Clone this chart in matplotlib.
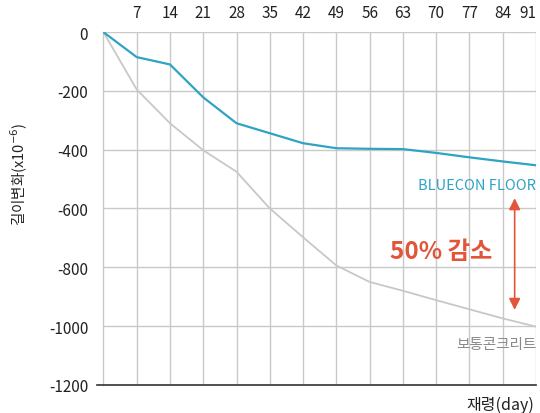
import matplotlib.pyplot as plt

plt.rcParams['font.family'] = ['Noto Sans CJK KR', 'DejaVu Sans']
plt.rcParams['axes.unicode_minus'] = False

# 재령(일)
days = [0, 7, 14, 21, 28, 35, 42, 49, 56, 63, 70, 77, 84, 91]

# 길이변화 (x10^-6)
bluecon = [0, -85, -110, -222, -310, -344, -378, -395, -397, -398, -411, -426, -440, -453]
normal = [0, -195, -310, -402, -475, -600, -698, -794, -850, -880, -912, -943, -974, -1002]

x_ticks = [7, 14, 21, 28, 35, 42, 49, 56, 63, 70, 77, 84, 91]
y_ticks = [0, -200, -400, -600, -800, -1000, -1200]

# 감소 화살표 범위
arrow_x = 86.5
arrow_top = -565
arrow_bottom = -945

fig = plt.figure(figsize=(5.4, 4.14), dpi=100)
ax = fig.add_axes([0.1915, 0.068, 0.8012, 0.852])

grid_c = '#c9c9c9'
ax.plot(days, normal, color='#c8c8c8', lw=1.3, zorder=3)
ax.plot(days, bluecon, color='#2fa3c4', lw=1.6, zorder=4)

ax.set_xlim(0, 91)
ax.set_ylim(-1200, 0)
ax.set_xticks(x_ticks)
ax.set_yticks(y_ticks)
ax.xaxis.tick_top()
ax.tick_params(axis='x', length=0, pad=8, labelsize=11, colors='#222222')
ax.tick_params(axis='y', length=0, pad=11, labelsize=11, colors='#222222')
ax.get_xticklabels()[-1].set_ha('right')
ax.grid(True, color=grid_c, lw=1.0)
ax.set_axisbelow(True)

for side in ['top', 'right']:
    ax.spines[side].set_visible(False)
ax.spines['left'].set_color(grid_c)
ax.spines['left'].set_linewidth(1.0)
ax.spines['bottom'].set_visible(False)
# 아래 축선은 왼쪽으로 조금 더 나가게
ax.plot([-1.3, 91], [-1200, -1200], color='#333333', lw=1.2,
        clip_on=False, zorder=5)

ax.text(91, -520, 'BLUECON FLOOR', color='#2fa3c4', fontsize=10.5,
        ha='right', va='center')
ax.text(91, -1060, '보통콘크리트', color='#8a8a8a', fontsize=10.5,
        ha='right', va='center')
ax.text(60.2, -745, '50% 감소', color='#e2553a', fontsize=17.5,
        fontweight='bold', ha='left', va='center')
ax.annotate('', xy=(arrow_x, arrow_top), xytext=(arrow_x, arrow_bottom),
            arrowprops=dict(arrowstyle='<|-|>', color='#e2553a', lw=1.2,
                            mutation_scale=17, shrinkA=0, shrinkB=0))

fig.text(0.035, 0.58, '길이변화(x10$^{-6}$)', rotation=90, fontsize=10.5,
         ha='center', va='center', color='#222222')
fig.text(0.99, 0.022, '재령(day)', fontsize=11.5, ha='right', va='center',
         color='#222222')

fig.savefig('out.png', dpi=100)
